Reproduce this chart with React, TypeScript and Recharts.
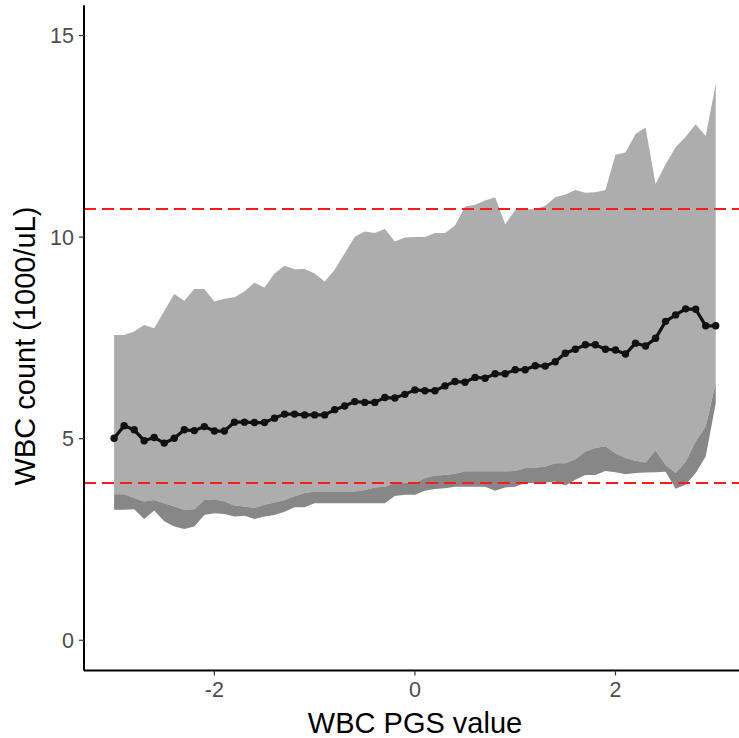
import React from 'react';
import {
  ComposedChart, Area, Line, XAxis, YAxis, ReferenceLine
} from 'recharts';

// PGS bins (x) and WBC summaries per bin
const pgsValues = [
  -3.0, -2.9, -2.8, -2.7, -2.6, -2.5, -2.4, -2.3, -2.2, -2.1,
  -2.0, -1.9, -1.8, -1.7, -1.6, -1.5, -1.4, -1.3, -1.2, -1.1,
  -1.0, -0.9, -0.8, -0.7, -0.6, -0.5, -0.4, -0.3, -0.2, -0.1,
  0.0, 0.1, 0.2, 0.3, 0.4, 0.5, 0.6, 0.7, 0.8, 0.9,
  1.0, 1.1, 1.2, 1.3, 1.4, 1.5, 1.6, 1.7, 1.8, 1.9,
  2.0, 2.1, 2.2, 2.3, 2.4, 2.5, 2.6, 2.7, 2.8, 2.9, 3.0
];

const meanWbc = [
  5.01, 5.32, 5.22, 4.95, 5.03, 4.89, 5.01, 5.22, 5.20, 5.30,
  5.19, 5.19, 5.41, 5.41, 5.40, 5.40, 5.51, 5.61, 5.61, 5.59,
  5.59, 5.59, 5.72, 5.81, 5.92, 5.90, 5.90, 6.02, 6.01, 6.10,
  6.21, 6.19, 6.19, 6.31, 6.42, 6.40, 6.52, 6.50, 6.61, 6.61,
  6.71, 6.71, 6.81, 6.80, 6.91, 7.12, 7.22, 7.33, 7.33, 7.22,
  7.20, 7.10, 7.37, 7.30, 7.49, 7.91, 8.07, 8.22, 8.21, 7.80, 7.80
];

const upperWbc = [
  7.57, 7.57, 7.66, 7.82, 7.74, 8.17, 8.59, 8.42, 8.71, 8.71,
  8.40, 8.47, 8.51, 8.65, 8.87, 8.75, 9.10, 9.29, 9.20, 9.21,
  9.10, 8.90, 9.19, 9.60, 10.01, 10.14, 10.10, 10.20, 9.89, 9.99,
  10.00, 10.00, 10.10, 10.10, 10.29, 10.76, 10.80, 10.91, 10.99, 10.32,
  10.67, 10.69, 10.69, 10.78, 10.99, 11.06, 11.17, 11.10, 11.11, 11.17,
  12.04, 12.10, 12.56, 12.72, 11.32, 11.81, 12.23, 12.49, 12.80, 12.51, 13.80
];

const lowerInner = [
  3.62, 3.62, 3.53, 3.44, 3.48, 3.40, 3.32, 3.24, 3.25, 3.48,
  3.50, 3.44, 3.34, 3.32, 3.28, 3.36, 3.42, 3.48, 3.57, 3.65,
  3.69, 3.69, 3.69, 3.69, 3.69, 3.73, 3.79, 3.81, 3.90, 3.90,
  3.90, 4.02, 4.09, 4.10, 4.13, 4.19, 4.19, 4.19, 4.19, 4.19,
  4.20, 4.27, 4.28, 4.31, 4.39, 4.39, 4.49, 4.68, 4.77, 4.81,
  4.64, 4.52, 4.45, 4.41, 4.71, 4.35, 4.15, 4.43, 4.93, 5.30, 6.38
];

const lowerOuter = [
  3.24, 3.24, 3.25, 3.01, 3.22, 2.95, 2.82, 2.76, 2.82, 3.11,
  3.15, 3.13, 3.07, 3.09, 3.01, 3.07, 3.11, 3.19, 3.30, 3.30,
  3.40, 3.40, 3.40, 3.40, 3.40, 3.40, 3.40, 3.40, 3.58, 3.61,
  3.61, 3.71, 3.75, 3.77, 3.81, 3.81, 3.81, 3.81, 3.71, 3.79,
  3.81, 3.90, 3.90, 3.91, 3.94, 3.84, 3.98, 4.10, 4.10, 4.20,
  4.17, 4.12, 4.15, 4.16, 4.17, 4.18, 3.76, 3.86, 4.15, 4.56, 5.88
];

const xTicks = [-2, 0, 2];
const yTicks = [0, 5, 10, 15];
const refLow = 3.9;
const refHigh = 10.7;

const rows = pgsValues.map((x, i) => ({
  x,
  mean: meanWbc[i],
  band: [lowerInner[i], upperWbc[i]],
  lowBand: [lowerOuter[i], lowerInner[i]],
}));

const fontStack = '"Liberation Sans", Arial, sans-serif';

function XTick(props: any) {
  const { x, y, payload } = props;
  return (
    <text x={x} y={y + 15.5} textAnchor="middle" fontSize={21.5} fontFamily={fontStack} fill="#4D4D4D">
      {payload.value}
    </text>
  );
}

function YTick(props: any) {
  const { x, y, payload } = props;
  return (
    <text x={x} y={y + 7.6} textAnchor="end" fontSize={21.5} fontFamily={fontStack} fill="#4D4D4D">
      {payload.value}
    </text>
  );
}

export default function App() {
  return (
    <div style={{ position: 'fixed', left: 0, top: 0, width: 739, height: 738, background: '#fff', overflow: 'hidden' }}>
      <ComposedChart
        width={739}
        height={738}
        data={rows}
        margin={{ top: 5.3, right: 0, left: 0, bottom: 0 }}
      >
        <XAxis
          dataKey="x"
          type="number"
          domain={[-3.3, 3.232]}
          ticks={xTicks}
          allowDataOverflow
          height={67.5}
          tick={<XTick />}
          tickSize={5}
          tickMargin={6}
          axisLine={{ stroke: '#000', strokeWidth: 2 }}
          tickLine={{ stroke: '#333', strokeWidth: 1.2 }}
        />
        <YAxis
          type="number"
          domain={[-0.75, 15.75]}
          ticks={yTicks}
          allowDataOverflow
          width={84}
          tick={<YTick />}
          tickSize={5}
          tickMargin={5}
          axisLine={{ stroke: '#000', strokeWidth: 2 }}
          tickLine={{ stroke: '#333', strokeWidth: 1.2 }}
        />
        <Area
          type="linear"
          dataKey="band"
          stroke="none"
          fill="#ADADAD"
          fillOpacity={1}
          isAnimationActive={false}
        />
        <Area
          type="linear"
          dataKey="lowBand"
          stroke="none"
          fill="#878787"
          fillOpacity={1}
          isAnimationActive={false}
        />
        <ReferenceLine y={refLow} stroke="#FF1A1A" strokeWidth={2} strokeDasharray="12 6" />
        <ReferenceLine y={refHigh} stroke="#FF1A1A" strokeWidth={2} strokeDasharray="12 6" />
        <Line
          type="linear"
          dataKey="mean"
          stroke="#111"
          strokeWidth={3.2}
          dot={{ r: 3.7, fill: '#111', stroke: 'none' }}
          isAnimationActive={false}
        />
      </ComposedChart>
      <svg width={739} height={738} style={{ position: 'absolute', left: 0, top: 0, pointerEvents: 'none' }}>
        <text x={415} y={733} textAnchor="middle" fontSize={29} fontFamily={fontStack} fill="#000">
          WBC PGS value
        </text>
        <text
          transform="translate(35, 346) rotate(-90)"
          textAnchor="middle"
          fontSize={29}
          fontFamily={fontStack}
          fill="#000"
        >
          WBC count (1000/uL)
        </text>
      </svg>
    </div>
  );
}
